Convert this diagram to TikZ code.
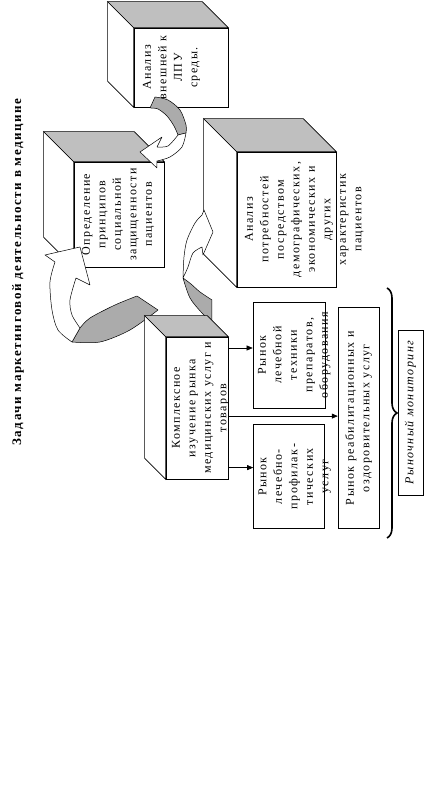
\documentclass[tikz,border=0pt]{standalone}
\usepackage{fontspec}
\setmainfont{Liberation Serif}[LetterSpace=12]
\usetikzlibrary{calc}
\usetikzlibrary{positioning}
\usetikzlibrary{arrows.meta}
\usetikzlibrary{decorations.pathreplacing}
\providecommand\cubefaces[2]{% front face node, depth
    \draw[fill=white] (#1.north west) -- ++(#2,#2) -- ($(#1.north east)+(#2,#2)$) -- (#1.north east) -- cycle;
    \draw[fill=black!25] (#1.north east) -- ++(#2,#2) -- ($(#1.south east)+(#2,#2)$) -- (#1.south east) -- cycle;
}

\begin{document}
\begin{tikzpicture}[x=1pt, y=1pt, rotate=90, transform shape,
        line width=0.6pt,
        face/.style={draw, fill=white, inner sep=0pt},
        txt/.style={inner sep=0pt, align=center, font=\fontsize{12}{15.5}\selectfont},
        ribbon/.style={draw, line width=0.5pt, line join=round},
        >={Triangle[length=6pt, width=5pt]}]
    \useasboundingbox (0,0) rectangle (792,424);

    \node (title) at (520,406) [font=\fontsize{13}{15}\selectfont\bfseries] {Задачи маркетинговой деятельности в медицине};

    % upper cubes
    \node (f1) at (724.5,243) [face, minimum width=79pt, minimum height=94pt] {};
    \cubefaces{f1}{26}
    \node (t1) [txt, below=9pt of f1.north] {Анализ\\внешней к\\ЛПУ\\среды.};

    \node (f2) at (577.5,305) [face, minimum width=105pt, minimum height=90pt] {};
    \cubefaces{f2}{30}
    \node (t2) [txt, below=8pt of f2.north] {Определение\\принципов\\социальной\\защищенности\\пациентов};

    \node (f3) at (572.5,137.5) [face, minimum width=135pt, minimum height=99pt] {};
    \cubefaces{f3}{33}
    \node (t3) [txt, below=8pt of f3.north] {Анализ\\потребностей\\посредством\\демографических,\\экономических и\\других\\характеристик\\пациентов};

    % curved arrows
    \filldraw[ribbon, fill=black!33] (695,269) -- plot[smooth] coordinates {(695,269) (692,256) (682,244) (667,238) (659,238)}
        -- (657,246) -- plot[smooth] coordinates {(657,246) (666,250) (676,257) (683,266) (684,274)} -- cycle;
    \filldraw[ribbon, fill=white] (659,238) -- plot[smooth] coordinates {(659,238) (645,242) (635,254) (631,267)}
        -- (624,267) -- (640,284) -- (655,262) -- (645,267)
        -- plot[smooth] coordinates {(645,267) (646,256) (657,246)} -- cycle;

    \filldraw[ribbon, fill=black!33] (496,287) -- (482,266) -- plot[smooth] coordinates {(482,266) (462,294) (450,324) (450,352)}
        -- (464,344) -- plot[smooth] coordinates {(464,344) (474,334) (487,309) (496,287)} -- cycle;
    \filldraw[ribbon, fill=white] (450,352) -- plot[smooth] coordinates {(450,352) (462,366) (482,372) (510,374) (530,369)}
        -- (537,379) -- (545,344) -- (507,334) -- (514,348)
        -- plot[smooth] coordinates {(514,348) (492,354) (477,352) (464,344)} -- cycle;

    \filldraw[ribbon, fill=black!33] (470,212) -- plot[smooth] coordinates {(470,212) (479,222) (494,234) (514,241)}
        -- plot[smooth] coordinates {(514,241) (508,233) (500,224) (492,212)} -- cycle;
    \filldraw[ribbon, fill=white] (514,241) -- plot[smooth] coordinates {(514,241) (535,240) (552,237) (569,229) (577,222)}
        -- (582,220) -- (560,211) -- (537,221) -- (545,222)
        -- plot[smooth] coordinates {(545,222) (539,231) (525,236) (514,241)} -- cycle;

    % market study
    \node (f4) at (384,227) [face, minimum width=142pt, minimum height=62pt] {};
    \cubefaces{f4}{21}
    \node (t4) [txt, below=6pt of f4.north] {Комплексное\\изучение рынка\\медицинских услуг и\\товаров};

    \node (f5) at (437,135) [face, minimum width=106pt, minimum height=72pt] {};
    \node (t5) [txt, below=5pt of f5.north] {Рынок\\лечебной\\техники\\препаратов,\\оборудования};

    \node (f6) [face, minimum width=104pt, minimum height=71pt, left=16pt of f5] {};
    \node (t6) [txt, below=5pt of f6.north] {Рынок\\лечебно-\\профилак-\\тических\\услуг};

    \node (f7) [face, minimum width=221pt, minimum height=41pt, below=13pt of f6.south west, anchor=north west] {};
    \node (t7) [txt] at (f7) {Рынок реабилитационных и\\оздоровительных услуг};

    \node (f8) at (379.5,13.5) [face, minimum width=165pt, minimum height=25pt,
        font=\fontsize{12}{13}\selectfont\itshape] {Рыночный мониторинг};

    \draw[->] ([xshift=7pt]f5.north |- f4.south) -- ([xshift=7pt]f5.north);
    \draw[->] ([xshift=9pt]f6.north |- f4.south) -- ([xshift=9pt]f6.north);
    \draw[->] ([xshift=2pt]f7.north |- f4.south) -- ([xshift=2pt]f7.north);

    \coordinate (brtop) at (504,37);
    \coordinate (brbot) at (254,37);
    \draw[decorate, decoration={brace, amplitude=10pt}, line width=1.6pt] (brtop) -- (brbot);
\end{tikzpicture}
\end{document}
